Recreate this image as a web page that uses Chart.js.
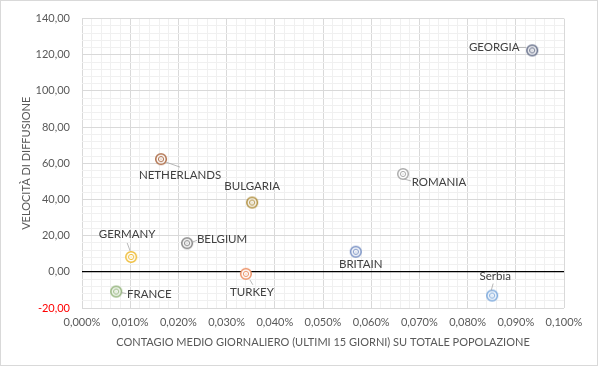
<!DOCTYPE html>
<html>
<head>
<meta charset="utf-8">
<script src="https://cdn.jsdelivr.net/npm/chart.js@4.4.0/dist/chart.umd.min.js"></script>
<style>
  html, body { margin: 0; padding: 0; background: #fff; }
  #wrap { width: 598px; height: 366px; position: relative; }
</style>
</head>
<body>
<div id="wrap"><canvas id="chart" width="598" height="366"></canvas></div>
<script>
// values (x in %, y = velocita di diffusione)
const countries = ['GEORGIA', 'ROMANIA', 'NETHERLANDS', 'BULGARIA', 'GERMANY',
  'BELGIUM', 'FRANCE', 'TURKEY', 'BRITAIN', 'Serbia'];
const contagio = [0.0934, 0.0666, 0.0164, 0.0353, 0.0102, 0.0218, 0.0071, 0.0340, 0.0568, 0.0851];
const velocita = [122.4, 54.1, 62.3, 38.3, 8.2, 15.8, -10.9, -1.1, 11.1, -13.1];

const colors = ['#5a6480', '#ababab', '#ad6d48', '#ab8833', '#efbd38',
  '#808080', '#8aae70', '#ec9064', '#748dc2', '#73a3da'];

// label offset from point centre and leader line (dx1,dy1,dx2,dy2) or null
const labelPos = [
  [-38, -3, [-14, -3, -6, -3]],
  [36, 8, [1, 5, 8, 7]],
  [19, 16, [5, 3, 19, 8]],
  [0, -16, null],
  [-4, -23, [-4, -14, -1, -6]],
  [35, -4, [5, -1, 10, -3]],
  [33, 3, [5, 1, 10, 2]],
  [6, 18, [4, 6, 7, 11]],
  [5, 13, null],
  [3, -19, [1, -12, -1, -5]]
];

function ringMarker(color) {
  const c = document.createElement('canvas');
  c.width = 14; c.height = 14;
  const g = c.getContext('2d');
  g.fillStyle = '#fff';
  g.strokeStyle = color;
  g.lineWidth = 1.5;
  g.beginPath(); g.arc(7, 7, 5.3, 0, Math.PI * 2); g.fill(); g.stroke();
  g.lineWidth = 1;
  g.beginPath(); g.arc(7, 7, 2.6, 0, Math.PI * 2); g.stroke();
  g.fillStyle = color;
  g.beginPath(); g.arc(7, 7, 0.6, 0, Math.PI * 2); g.fill();
  return c;
}

const points = contagio.map((x, i) => ({ x: x, y: velocita[i] }));

const frame = {
  id: 'frame',
  beforeDraw(chart) {
    const c = chart.ctx;
    c.save();
    c.fillStyle = '#fff';
    c.fillRect(0, 0, chart.width, chart.height);
    c.strokeStyle = '#d9d9d9';
    c.lineWidth = 1;
    c.strokeRect(0.5, 0.5, chart.width - 1, chart.height - 1);
    c.restore();
  }
};

const labels = {
  id: 'labels',
  afterDatasetsDraw(chart) {
    const c = chart.ctx;
    const meta = chart.getDatasetMeta(0);
    c.save();
    c.font = '11.5px Lato';
    c.fillStyle = '#404040';
    c.textAlign = 'center';
    c.textBaseline = 'middle';
    meta.data.forEach((pt, i) => {
      const p = labelPos[i];
      if (p[2]) {
        c.strokeStyle = '#a6a6a6';
        c.lineWidth = 0.8;
        c.beginPath();
        c.moveTo(pt.x + p[2][0], pt.y + p[2][1]);
        c.lineTo(pt.x + p[2][2], pt.y + p[2][3]);
        c.stroke();
      }
      c.fillText(countries[i], pt.x + p[0], pt.y + p[1]);
    });
    c.restore();
  }
};

new Chart(document.getElementById('chart'), {
  type: 'scatter',
  data: {
    datasets: [{
      data: points,
      pointStyle: colors.map(ringMarker),
      pointRadius: 6,
      pointHoverRadius: 6
    }]
  },
  options: {
    responsive: false,
    animation: false,
    plugins: { legend: { display: false }, tooltip: { enabled: false } },
    layout: { padding: { left: 0, right: 34, top: 15, bottom: 0 } },
    scales: {
      x: {
        type: 'linear',
        min: 0, max: 0.1,
        afterFit(s) { s.height = 58; },
        border: { display: false },
        grid: {
          drawTicks: false,
          color: ctx => ctx.index % 5 === 0 ? '#d9d9d9' : '#f0f0f0',
          lineWidth: 1
        },
        ticks: {
          stepSize: 0.002,
          autoSkip: false,
          maxRotation: 0,
          padding: 8,
          color: '#595959',
          font: { family: 'Lato', size: 11 },
          callback: (v, i) => i % 5 === 0 ? v.toFixed(3).replace('.', ',') + '%' : ''
        },
        title: {
          display: true,
          text: 'CONTAGIO MEDIO GIORNALIERO (ULTIMI 15 GIORNI) SU TOTALE POPOLAZIONE',
          color: '#595959',
          font: { family: 'Lato', size: 11 },
          padding: { top: 4, bottom: 17 }
        }
      },
      y: {
        type: 'linear',
        min: -20, max: 140,
        afterFit(s) { s.width = 82; },
        border: { display: false },
        grid: {
          drawTicks: false,
          color: ctx => ctx.tick.value === 0 ? '#000' : (ctx.tick.value % 20 === 0 ? '#d9d9d9' : '#f0f0f0'),
          lineWidth: ctx => ctx.tick.value === 0 ? 1.3 : 1
        },
        ticks: {
          stepSize: 4,
          autoSkip: false,
          padding: 12,
          color: ctx => ctx.tick.value < 0 ? '#ff0000' : '#595959',
          font: { family: 'Lato', size: 11 },
          callback: v => v % 20 === 0 ? v.toFixed(2).replace('.', ',') : ''
        },
        title: {
          display: true,
          text: 'VELOCITÀ DI DIFFUSIONE',
          color: '#595959',
          font: { family: 'Lato', size: 11 },
          padding: { top: 20, bottom: 0 }
        }
      }
    }
  },
  plugins: [frame, labels]
});
</script>
</body>
</html>
